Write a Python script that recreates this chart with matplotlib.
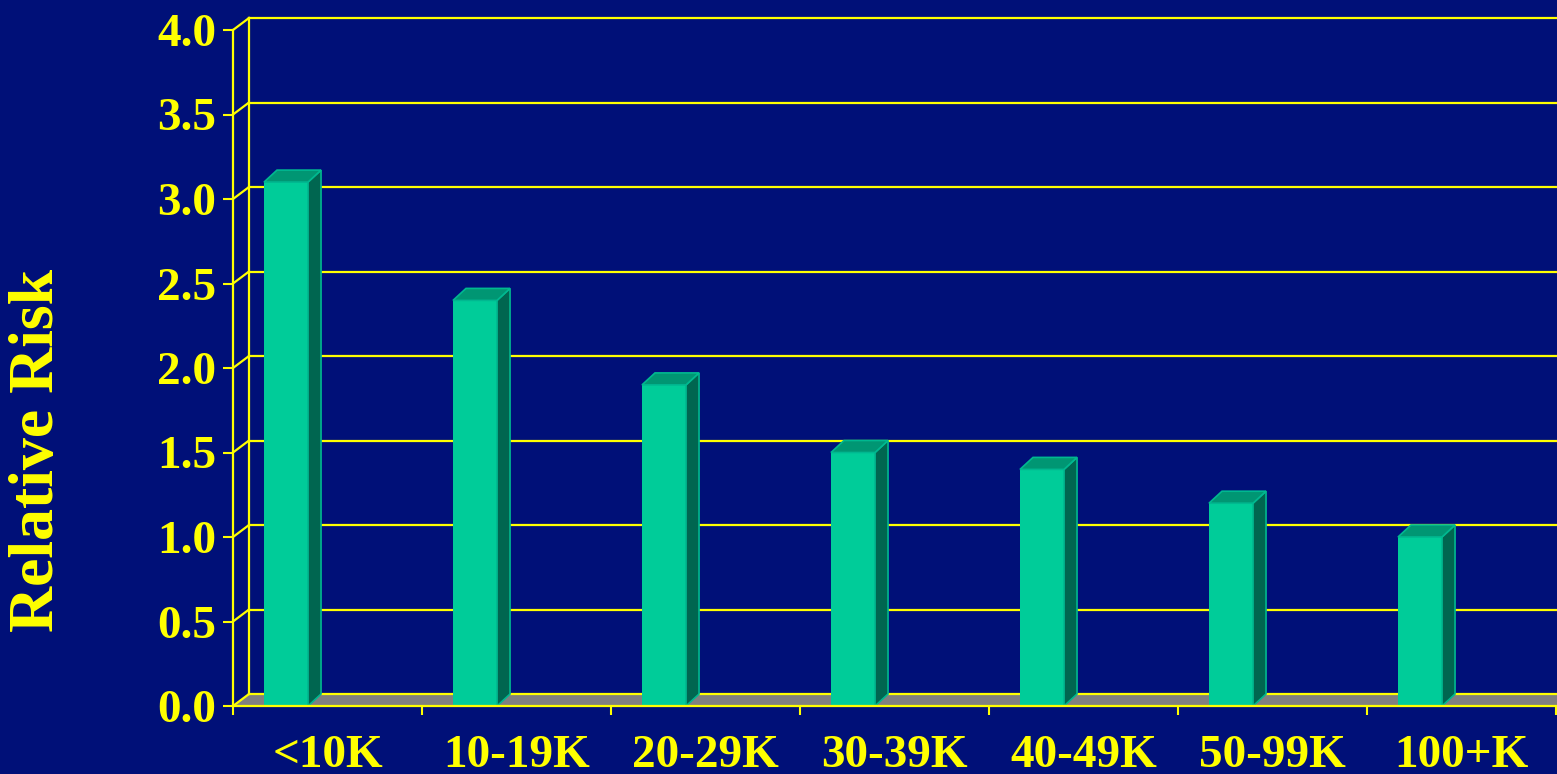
import numpy as np
import matplotlib
matplotlib.use("Agg")
import matplotlib.pyplot as plt
from matplotlib.patches import Polygon

# income groups and relative risk
categories = ['<10K', '10-19K', '20-29K', '30-39K', '40-49K', '50-99K', '100+K']
risk = [3.1, 2.4, 1.9, 1.5, 1.4, 1.2, 1.0]
yticks = np.arange(0, 4.01, 0.5)

bg = '#001078'
yellow = '#FFFF00'
front = '#00CC99'
top = '#009673'
side = '#006650'

plt.rcParams['font.family'] = ['Liberation Serif', 'DejaVu Serif']
plt.rcParams['font.weight'] = 'bold'

fig = plt.figure(figsize=(15.57, 7.74), dpi=100, facecolor=bg)
ax = fig.add_axes([233/1557, 68/774, 1323/1557, 676/774])
ax.set_facecolor(bg)
ax.patch.set_alpha(0)

n = len(categories)
ax.set_xlim(0, n)
ax.set_ylim(0, 4)

# depth of the fake 3d wall and of the bars, in data units
wdx, wdy = 16/189, 12/169
bdx, bdy = 13/189, 12/169
bar_off, bar_w = 0.164, 0.233

# floor
ax.add_patch(Polygon([(0, 0), (n, 0), (n + wdx, wdy), (wdx, wdy)], closed=True,
                     facecolor='#808080', edgecolor='none', clip_on=False, zorder=1))

# back wall grid lines and the slanted connectors
for y in yticks:
    ax.plot([wdx, n + wdx + 1], [y + wdy, y + wdy], color=yellow, lw=1.6,
            clip_on=False, zorder=2)
    ax.plot([0, wdx], [y, y + wdy], color=yellow, lw=1.6, clip_on=False, zorder=2)
ax.plot([wdx, wdx], [wdy, 4 + wdy], color=yellow, lw=1.6, clip_on=False, zorder=2)
ax.plot([0, 0], [0, 4], color=yellow, lw=1.6, clip_on=False, zorder=2)
ax.plot([0, n], [0, 0], color=yellow, lw=1.6, clip_on=False, zorder=6)

# bars with side and top faces
x = np.arange(n)
ax.bar(x + bar_off, risk, width=bar_w, align='edge', color=front,
       edgecolor='none', zorder=4)
for xi, v in zip(x, risk):
    l = xi + bar_off
    r = l + bar_w
    ax.add_patch(Polygon([(r, 0), (r + bdx, bdy), (r + bdx, v + bdy), (r, v)],
                         closed=True, facecolor=side, edgecolor='#00B890', lw=1.2, zorder=4))
    ax.add_patch(Polygon([(l, v), (r, v), (r + bdx, v + bdy), (l + bdx, v + bdy)],
                         closed=True, facecolor=top, edgecolor='#00B890', lw=1.2, zorder=4))

for s in ax.spines.values():
    s.set_visible(False)

ax.set_yticks(yticks)
ax.set_yticklabels([f'{t:.1f}' for t in yticks])
ax.tick_params(axis='y', colors=yellow, length=7.2, width=1.5, pad=5,
               labelsize=34, direction='out')

ax.set_xticks(np.arange(n + 1), minor=True)
ax.set_xticks(x + 0.5)
ax.set_xticklabels(categories)
ax.tick_params(axis='x', which='major', length=0, pad=21, labelsize=34, colors=yellow)
ax.tick_params(axis='x', which='minor', length=6.5, width=1.5, color=yellow, direction='out')

fig.text(38/1557, 1 - 450/774, 'Relative Risk', color=yellow, fontsize=46,
         fontweight='bold', rotation=90, ha='center', va='center')

fig.savefig('out.png', dpi=100, facecolor=bg)
